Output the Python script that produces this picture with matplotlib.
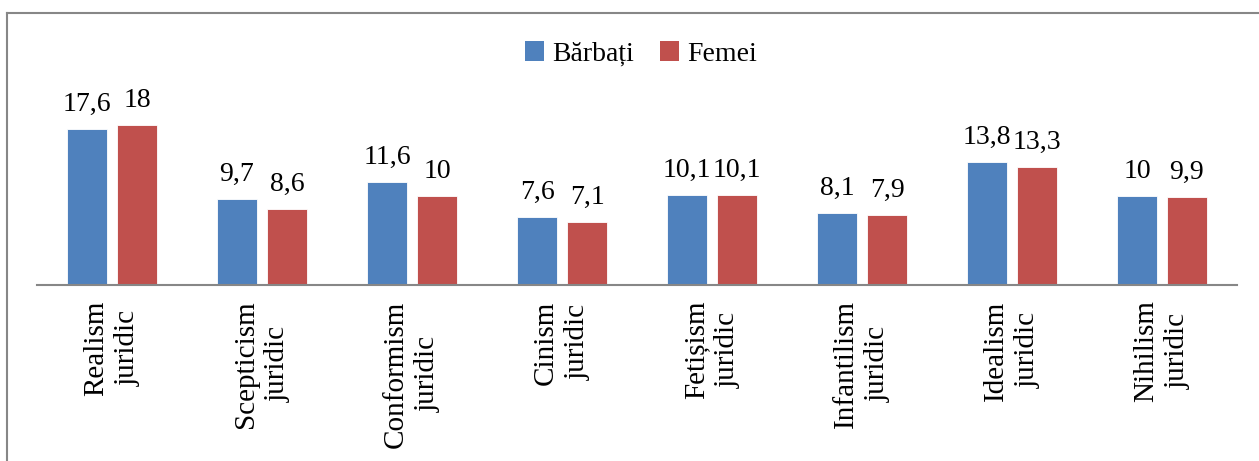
import matplotlib
matplotlib.use("Agg")
import matplotlib.pyplot as plt
from matplotlib.lines import Line2D
from matplotlib.patches import Patch
import numpy as np

categories = ["Realism\njuridic", "Scepticism\njuridic", "Conformism\njuridic", "Cinism\njuridic",
              "Fetișism\njuridic", "Infantilism\njuridic", "Idealism\njuridic", "Nihilism\njuridic"]
barbati = [17.6, 9.7, 11.6, 7.6, 10.1, 8.1, 13.8, 10.0]
femei = [18.0, 8.6, 10.0, 7.1, 10.1, 7.9, 13.3, 9.9]
series_names = ["Bărbați", "Femei"]

def fmt(v):
    s = ("%.1f" % v).rstrip("0").rstrip(".")
    return s.replace(".", ",")

plt.rcParams['font.family'] = ['Liberation Serif', 'DejaVu Serif']
FS = 20

W, H = 1259, 461
fig = plt.figure(figsize=(W / 100, H / 100), dpi=100)

# frame
fig.add_artist(Line2D([7 / W, 1.0], [1 - 13 / H, 1 - 13 / H], transform=fig.transFigure,
                      color="#878787", lw=1.5))
fig.add_artist(Line2D([7 / W, 7 / W], [0, 1 - 13 / H], transform=fig.transFigure,
                      color="#878787", lw=1.5))

base_y = 285
top_y = 20
px_per_unit = 160 / 18.0
ax = fig.add_axes([37 / W, (H - base_y) / H, 1200 / W, (base_y - top_y) / H])
ax.set_ylim(0, (base_y - top_y) / px_per_unit)
ax.set_xlim(-0.5, len(categories) - 0.5)

x = np.arange(len(categories))
bw = 40 / 150
off = 25 / 150
blue, red = "#4F81BD", "#C0504D"
ax.bar(x - off, barbati, bw, color=blue, edgecolor="white", linewidth=0.6)
ax.bar(x + off, femei, bw, color=red, edgecolor="white", linewidth=0.6)

for xs, vals in ((x - off, barbati), (x + off, femei)):
    for xi, v in zip(xs, vals):
        ax.annotate(fmt(v), (xi, v), xytext=(0, 13), textcoords="offset points",
                    ha="center", va="baseline", fontsize=FS)

for s in ["top", "right", "left"]:
    ax.spines[s].set_visible(False)
ax.spines["bottom"].set_color("#878787")
ax.spines["bottom"].set_linewidth(1.5)
ax.set_yticks([])
ax.set_xticks(x)
ax.set_xticklabels(categories, rotation=90, fontsize=21, multialignment="center",
                   linespacing=1.3)
ax.tick_params(axis="x", length=0, pad=11)
ax.patch.set_visible(False)

handles = [Patch(facecolor=blue), Patch(facecolor=red)]
fig.legend(handles, series_names, loc="center", bbox_to_anchor=(641 / W, 1 - 54 / H),
           ncol=2, frameon=False, fontsize=FS, handlelength=0.7, handleheight=0.7,
           handletextpad=0.3, columnspacing=0.9)

fig.savefig("out.png", dpi=100)
